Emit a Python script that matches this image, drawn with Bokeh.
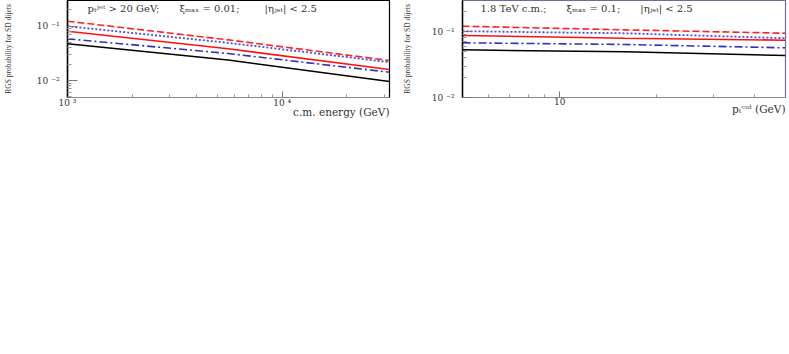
from bokeh.plotting import figure
from bokeh.layouts import row
from bokeh.models import FixedTicker, CustomJSTickFormatter, Label, Range1d, Title
from bokeh.embed import file_html
from bokeh.resources import INLINE

# ---- left panel: probability vs c.m. energy ----
energy = [1000, 5600, 31600]
l_red_dashed = [0.1225, 0.0558, 0.0233]
l_blue_dotted = [0.099, 0.0492, 0.0217]
l_red_solid = [0.0803, 0.0382, 0.0159]
l_blue_dashdot = [0.0582, 0.0313, 0.0142]
l_black_solid = [0.0471, 0.0238, 0.0096]

# ---- right panel: probability vs pt cut ----
ptcut = [5, 15.9, 50]
r_red_dashed = [0.1203, 0.106, 0.0942]
r_blue_dotted = [0.101, 0.094, 0.0791]
r_red_solid = [0.0869, 0.0791, 0.0738]
r_blue_dashdot = [0.0674, 0.0636, 0.0566]
r_black_solid = [0.0528, 0.0492, 0.0433]

y_major = [0.01, 0.1]
y_minor_left = [0.005, 0.006, 0.007, 0.008, 0.009, 0.02, 0.03, 0.04, 0.05, 0.06, 0.07, 0.08, 0.09, 0.2]
y_minor_right = [0.02, 0.03, 0.04, 0.05, 0.06, 0.07, 0.08, 0.09, 0.2]
x_major_left = [1000, 10000]
x_minor_left = [2000, 3000, 4000, 5000, 6000, 7000, 8000, 9000, 20000, 30000]
x_major_right = [10]
x_minor_right = [6, 7, 8, 9, 20, 30, 40]

ylabel = "RGS probability for SD dijets"
GAP = "\u2003\u2003"
left_note = "p\u209c\u02b2\u1d49\u1d57 > 20 GeV;" + GAP + "\u03be\u2098\u2090\u2093 = 0.01;" + GAP + "\u2002|\u03b7\u2c7c\u2091\u209c| < 2.5"
right_note = "1.8 TeV c.m.;" + GAP + "\u03be\u2098\u2090\u2093 = 0.1;" + GAP + "|\u03b7\u2c7c\u2091\u209c| < 2.5"
left_xlabel = "c.m. energy (GeV)"
right_xlabel = "p\u209c\u1d9c\u1d58\u1d57 (GeV)"

FONT = "DejaVu Serif"
TXT = "#333333"

POW_JS = """
const s = {"-":"\\u207b","0":"\\u2070","1":"\\u00b9","2":"\\u00b2","3":"\\u00b3","4":"\\u2074","5":"\\u2075","6":"\\u2076","7":"\\u2077","8":"\\u2078","9":"\\u2079"};
const e = Math.round(Math.log10(tick));
return "10 " + String(e).split("").map(c => s[c]).join("");
"""
PLAIN_JS = "return String(Math.round(tick));"


def style(p, xmaj, xmin, ymaj, ymin, xfmt_js, outline, ystandoff):
    p.grid.visible = False
    p.outline_line_color = outline
    p.outline_line_width = 1.2
    p.background_fill_color = "white"
    p.border_fill_color = "white"
    xa = p.xaxis[0]
    ya = p.yaxis[0]
    xa.ticker = FixedTicker(ticks=xmaj, minor_ticks=xmin)
    ya.ticker = FixedTicker(ticks=ymaj, minor_ticks=ymin)
    xa.formatter = CustomJSTickFormatter(code=xfmt_js)
    ya.formatter = CustomJSTickFormatter(code=POW_JS)
    for a in (xa, ya):
        a.major_tick_out = 0
        a.minor_tick_out = 0
        a.major_label_text_font = FONT
        a.major_label_text_font_size = "9px"
        a.major_label_text_color = TXT
        a.major_tick_line_color = "#777777"
        a.minor_tick_line_color = "#999999"
    xa.major_tick_in = 6
    xa.minor_tick_in = 3
    ya.major_tick_in = 10
    ya.minor_tick_in = 4
    xa.axis_line_color = "#888888"
    ya.axis_line_color = "black"
    ya.axis_line_width = 1.5
    xa.major_label_standoff = 0
    ya.major_label_standoff = 8
    ya.axis_label = ylabel
    ya.axis_label_text_font = "Liberation Serif"
    ya.axis_label_text_font_size = "7.5px"
    ya.axis_label_text_font_style = "normal"
    ya.axis_label_text_color = TXT
    ya.axis_label_standoff = ystandoff


def add_xtitle(p, xlabel):
    p.add_layout(Title(text=xlabel, align="right", text_font=FONT, text_font_size="10.5px",
                       text_font_style="normal", text_color=TXT, standoff=-15), "below")


def draw(p, x, rd, bd, rs, bdd, bk):
    p.line(x, rd, line_color="#ff2020", line_width=1.6, line_dash="7 3")
    p.line(x, bd, line_color="#4a4ae0", line_width=1.8, line_dash="2 2")
    p.line(x, rs, line_color="#ff1010", line_width=1.6)
    p.line(x, bdd, line_color="#3030c0", line_width=1.6, line_dash="8 3 2 3")
    p.line(x, bk, line_color="black", line_width=1.5)


p1 = figure(width=398, height=120, x_axis_type="log", y_axis_type="log",
            x_range=Range1d(1000, 31623), y_range=Range1d(0.00488, 0.294),
            output_backend="svg", toolbar_location=None,
            min_border_left=65, min_border_right=9, min_border_top=0, min_border_bottom=23)
style(p1, x_major_left, x_minor_left, y_major, y_minor_left, POW_JS, "black", 21)
add_xtitle(p1, left_xlabel)
draw(p1, energy, l_red_dashed, l_blue_dotted, l_red_solid, l_blue_dashdot, l_black_solid)
p1.add_layout(Label(x=20, y=95, x_units="screen", y_units="screen", text=left_note,
                    text_font=FONT, text_font_size="10px", text_color=TXT,
                    text_baseline="top", text_align="left"))

p2 = figure(width=391, height=120, x_axis_type="log", y_axis_type="log",
            x_range=Range1d(5, 50), y_range=Range1d(0.01, 0.295),
            output_backend="svg", toolbar_location=None,
            min_border_left=64, min_border_right=4, min_border_top=0, min_border_bottom=23)
style(p2, x_major_right, x_minor_right, y_major, y_minor_right, PLAIN_JS, "#6a6aaa", 17)
add_xtitle(p2, right_xlabel)
draw(p2, ptcut, r_red_dashed, r_blue_dotted, r_red_solid, r_blue_dashdot, r_black_solid)
p2.add_layout(Label(x=18, y=95, x_units="screen", y_units="screen", text=right_note,
                    text_font=FONT, text_font_size="10px", text_color=TXT,
                    text_baseline="top", text_align="left"))

layout = row(p1, p2)
open("out.html", "w").write(file_html(layout, INLINE))
